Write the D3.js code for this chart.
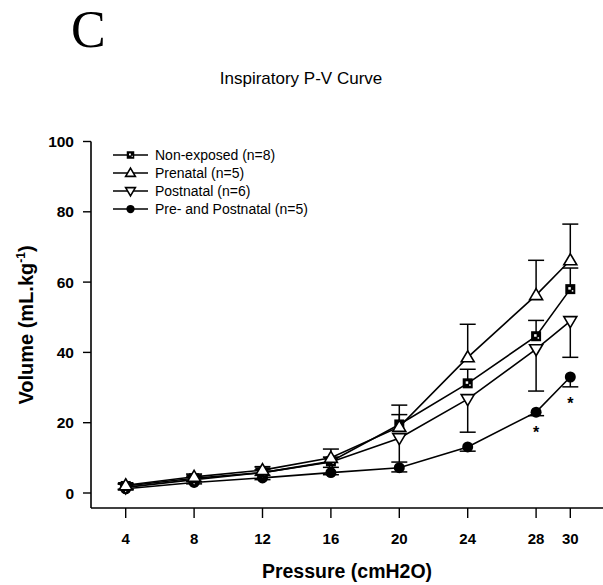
<!DOCTYPE html>
<html>
<head>
<meta charset="utf-8">
<script src="https://cdn.jsdelivr.net/npm/d3@7"></script>
<style>
  body { margin: 0; background: #fff; }
  svg { display: block; }
  text { font-family: "Liberation Sans", Arial, sans-serif; }
</style>
</head>
<body>
<div id="chart"></div>
<script>
// pressure steps (cmH2O)
const pressures = [4, 8, 12, 16, 20, 24, 28, 30];

const groupNames = ['Non-exposed (n=8)', 'Prenatal (n=5)', 'Postnatal (n=6)', 'Pre- and Postnatal (n=5)'];
const groupSymbols = ['square', 'triUp', 'triDown', 'circle'];
const groupErrDir = [1, 1, -1, -1]; // which side the SEM bar is drawn on

const nonExposed = [2.0, 4.2, 5.8, 9.0, 19.5, 31.2, 44.6, 58.0];
const nonExposedErr = [0.5, 0.6, 0.8, 1.2, 2.8, 4.0, 4.5, 6.0];
const prenatal = [2.2, 4.6, 6.5, 10.0, 18.8, 38.6, 56.3, 66.2];
const prenatalErr = [0.5, 0.8, 1.0, 2.5, 6.2, 9.4, 9.9, 10.3];
const postnatal = [1.6, 3.8, 5.8, 8.8, 15.6, 26.7, 40.9, 48.9];
const postnatalErr = [0.5, 0.5, 0.8, 1.5, 6.8, 9.4, 11.9, 10.3];
const prePost = [1.2, 3.0, 4.3, 5.8, 7.2, 13.1, 23.0, 33.0];
const prePostErr = [0.3, 0.4, 0.5, 0.6, 1.2, 1.2, 1.0, 2.8];

// significance marks (under the pre- and postnatal group)
const starPressures = [28, 30];

const yTicks = [0, 20, 40, 60, 80, 100];

const W = 603, H = 585;
const seriesVals = [nonExposed, prenatal, postnatal, prePost];
const seriesErr = [nonExposedErr, prenatalErr, postnatalErr, prePostErr];

const svg = d3.select('#chart').append('svg')
  .attr('width', W)
  .attr('height', H);

const x = d3.scaleLinear().domain([0, 30]).range([57.3, 570.3]);
const y = d3.scaleLinear().domain([0, 100]).range([493, 141.5]);
const AXIS_X = 91, AXIS_Y = 508;

// panel letter + title
svg.append('text')
  .attr('x', 71).attr('y', 47)
  .style('font-family', '"Liberation Serif", "Times New Roman", serif')
  .style('font-size', '52px')
  .text('C');

svg.append('text')
  .attr('x', 301).attr('y', 84)
  .attr('text-anchor', 'middle')
  .style('font-size', '17px')
  .text('Inspiratory P-V Curve');

// axes lines
svg.append('line')
  .attr('x1', AXIS_X).attr('x2', AXIS_X)
  .attr('y1', y(100)).attr('y2', AXIS_Y)
  .attr('stroke', '#000').attr('stroke-width', 1.6);
svg.append('line')
  .attr('x1', AXIS_X).attr('x2', W)
  .attr('y1', AXIS_Y).attr('y2', AXIS_Y)
  .attr('stroke', '#000').attr('stroke-width', 1.6);

// y ticks
const yt = svg.append('g').selectAll('g')
  .data(yTicks).enter().append('g');
yt.append('line')
  .attr('x1', AXIS_X - 8).attr('x2', AXIS_X)
  .attr('y1', d => y(d)).attr('y2', d => y(d))
  .attr('stroke', '#000').attr('stroke-width', 1.4);
yt.append('text')
  .attr('x', 74).attr('y', d => y(d) + 5.5)
  .attr('text-anchor', 'end')
  .style('font-size', '15.5px').style('font-weight', 'bold')
  .text(d => d);

// x ticks
const xt = svg.append('g').selectAll('g')
  .data(pressures).enter().append('g');
xt.append('line')
  .attr('x1', d => x(d)).attr('x2', d => x(d))
  .attr('y1', AXIS_Y).attr('y2', AXIS_Y + 10)
  .attr('stroke', '#000').attr('stroke-width', 1.4);
xt.append('text')
  .attr('x', d => x(d)).attr('y', 544)
  .attr('text-anchor', 'middle')
  .style('font-size', '15px').style('font-weight', 'bold')
  .text(d => d);

// axis titles
svg.append('text')
  .attr('x', 347).attr('y', 578)
  .attr('text-anchor', 'middle')
  .style('font-size', '19.5px').style('font-weight', 'bold')
  .text('Pressure (cmH2O)');

const yLab = svg.append('text')
  .attr('transform', 'translate(33,325) rotate(-90)')
  .attr('text-anchor', 'middle')
  .style('font-size', '20px').style('font-weight', 'bold');
yLab.append('tspan').text('Volume (mL.kg');
yLab.append('tspan').attr('dy', -8).style('font-size', '12px').text('-1');
yLab.append('tspan').attr('dy', 8).text(')');

// marker drawing helper, k scales the symbol
function drawMarker(g, sym, cx, cy, k = 1) {
  if (sym === 'square') {
    g.append('rect').attr('x', cx - 5 * k).attr('y', cy - 5 * k)
      .attr('width', 10 * k).attr('height', 10 * k).attr('fill', '#000');
    g.append('rect').attr('x', cx - 2 * k).attr('y', cy - 2 * k)
      .attr('width', 2.5 * k).attr('height', 2.5 * k).attr('fill', '#fff');
    g.append('rect').attr('x', cx + 1.5 * k).attr('y', cy + 1 * k)
      .attr('width', 1.5 * k).attr('height', 1.5 * k).attr('fill', '#fff');
  } else if (sym === 'triUp') {
    g.append('path')
      .attr('d', `M${cx},${cy - 6.5 * k}L${cx + 6.5 * k},${cy + 4.5 * k}L${cx - 6.5 * k},${cy + 4.5 * k}Z`)
      .attr('fill', '#fff').attr('stroke', '#000').attr('stroke-width', 1.6);
  } else if (sym === 'triDown') {
    g.append('path')
      .attr('d', `M${cx},${cy + 6.5 * k}L${cx + 6.5 * k},${cy - 4.5 * k}L${cx - 6.5 * k},${cy - 4.5 * k}Z`)
      .attr('fill', '#fff').attr('stroke', '#000').attr('stroke-width', 1.6);
  } else {
    g.append('circle').attr('cx', cx).attr('cy', cy).attr('r', 5.5 * k).attr('fill', '#000');
  }
}

const line = d3.line().x(d => x(d[0])).y(d => y(d[1]));

// draw in reverse order so the open triangles sit on top
[3, 2, 0, 1].forEach(si => {
  const g = svg.append('g');
  const vals = seriesVals[si];
  const errs = seriesErr[si];
  const dir = groupErrDir[si];

  // error bars
  pressures.forEach((p, i) => {
    const yEnd = y(vals[i] + dir * errs[i]);
    g.append('line')
      .attr('x1', x(p)).attr('x2', x(p))
      .attr('y1', y(vals[i])).attr('y2', yEnd)
      .attr('stroke', '#000').attr('stroke-width', 1.5);
    g.append('line')
      .attr('x1', x(p) - 8).attr('x2', x(p) + 8)
      .attr('y1', yEnd).attr('y2', yEnd)
      .attr('stroke', '#000').attr('stroke-width', 1.5);
  });

  g.append('path')
    .datum(pressures.map((p, i) => [p, vals[i]]))
    .attr('d', line)
    .attr('fill', 'none')
    .attr('stroke', '#000')
    .attr('stroke-width', 1.6);

  pressures.forEach((p, i) => drawMarker(g, groupSymbols[si], x(p), y(vals[i])));
});

// significance asterisks
starPressures.forEach(p => {
  const i = pressures.indexOf(p);
  svg.append('text')
    .attr('x', x(p)).attr('y', y(prePost[i] - prePostErr[i]) + 22)
    .attr('text-anchor', 'middle')
    .style('font-size', '16px').style('font-weight', 'bold')
    .text('*');
});

// legend
const legend = svg.append('g');
groupNames.forEach((name, i) => {
  const ly = 155 + i * 18;
  const lg = legend.append('g');
  lg.append('line')
    .attr('x1', 113).attr('x2', 148)
    .attr('y1', ly).attr('y2', ly)
    .attr('stroke', '#000').attr('stroke-width', 1.6);
  drawMarker(lg, groupSymbols[i], 130.5, ly, 0.75);
  lg.append('text')
    .attr('x', 155).attr('y', ly + 5)
    .style('font-size', '14px')
    .text(name);
});
</script>
</body>
</html>
